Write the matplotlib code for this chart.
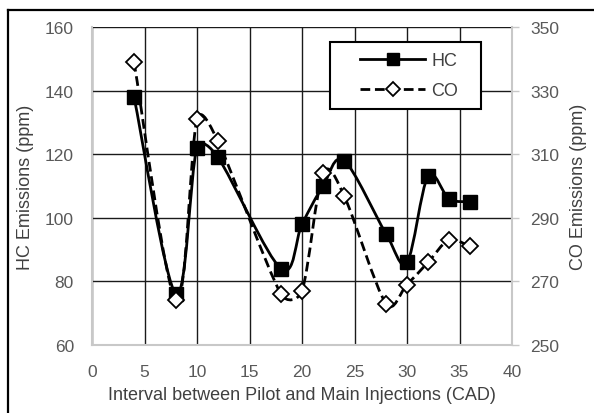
import numpy as np
import matplotlib
matplotlib.use("Agg")
import matplotlib.pyplot as plt
from matplotlib.path import Path
from matplotlib.patches import PathPatch, Rectangle
from matplotlib.lines import Line2D

plt.rcParams["font.family"] = ["Liberation Sans", "DejaVu Sans"]

# data
interval = [4, 8, 10, 12, 18, 20, 22, 24, 28, 30, 32, 34, 36]
hc = [138, 76, 122, 119, 84, 98, 110, 118, 95, 86, 113, 106, 105]
co = [339, 264, 321, 314, 266, 267, 304, 297, 263, 269, 276, 283, 281]

TICK_GREY = "#595959"
LABEL_GREY = "#404040"
DASH = (0, (3.5, 1.7))

# pixel size of one data unit, used to shape the smoothing like excel does
SX = 420 / 40
SY = 318 / 100


# Excel-like smoothed line as a bezier path in data coordinates
def smooth_path(xs, ys):
    pts = np.column_stack([np.asarray(xs) * SX, np.asarray(ys) * SY]).astype(float)
    n = len(pts)
    verts = [pts[0]]
    codes = [Path.MOVETO]
    for i in range(n - 1):
        p0 = pts[max(i - 1, 0)]
        p1 = pts[i]
        p2 = pts[i + 1]
        p3 = pts[min(i + 2, n - 1)]
        seg = np.hypot(*(p2 - p1))
        h1 = (p2 - p0) / 6.0
        h2 = (p3 - p1) / 6.0
        # keep handles shorter than half the segment
        for h in (h1, h2):
            ln = np.hypot(*h)
            if ln > seg / 2 and ln > 0:
                h *= (seg / 2) / ln
        verts += [p1 + h1, p2 - h2, p2]
        codes += [Path.CURVE4] * 3
    verts = np.array(verts) / [SX, SY]
    return Path(verts, codes)


fig = plt.figure(figsize=(5.94, 4.14), dpi=100)
ax = fig.add_axes([92 / 594, 1 - 346 / 414, 420 / 594, 318 / 414])
ax2 = ax.twinx()

# HC on the left axis
ax.add_patch(PathPatch(smooth_path(interval, hc), facecolor="none",
                       edgecolor="black", linewidth=2.0, zorder=3))
ax.plot(interval, hc, linestyle="none", marker="s", markersize=9.5,
        color="black", zorder=4)

# CO on the right axis
ax2.add_patch(PathPatch(smooth_path(interval, co), facecolor="none",
                        edgecolor="black", linewidth=2.0, linestyle=DASH,
                        zorder=3))
ax2.plot(interval, co, linestyle="none", marker="D", markersize=8,
         markerfacecolor="white", markeredgecolor="black", markeredgewidth=1.3,
         zorder=4)

ax.set_xlim(0, 40)
ax.set_ylim(60, 160)
ax2.set_ylim(250, 350)
ax.set_xticks(range(0, 41, 5))
ax.set_yticks(range(60, 161, 20))
ax2.set_yticks(range(250, 351, 20))

ax.grid(True, color="#1a1a1a", linewidth=1.0)
ax.set_axisbelow(True)

for a in (ax, ax2):
    for s in a.spines.values():
        s.set_visible(False)
ax.spines["left"].set_visible(True)
ax.spines["bottom"].set_visible(True)
ax2.spines["right"].set_visible(True)
for s in (ax.spines["left"], ax.spines["bottom"], ax2.spines["right"]):
    s.set_color("#c8c8c8")
    s.set_linewidth(1.5)

ax.tick_params(axis="x", length=0, pad=14, labelsize=12.5, labelcolor=TICK_GREY)
ax.tick_params(axis="y", length=0, pad=13, labelsize=12.5, labelcolor=TICK_GREY)
ax2.tick_params(axis="y", length=5, width=1, color="#c8c8c8", pad=8,
                labelsize=12.5, labelcolor=TICK_GREY)

ax.set_xlabel("Interval between Pilot and Main Injections (CAD)",
              fontsize=13, color=LABEL_GREY, labelpad=5)
ax.set_ylabel("HC Emissions (ppm)", fontsize=13, color=LABEL_GREY, labelpad=8)
ax2.set_ylabel("CO Emissions (ppm)", fontsize=13, color=LABEL_GREY, labelpad=8)

# legend box drawn by hand, wider than its content like the original
ax2.add_patch(Rectangle(((330 - 92) / 420, (346 - 110) / 318), 151 / 420, 67 / 318,
                        transform=ax2.transAxes, facecolor="white",
                        edgecolor="black", linewidth=1.5, zorder=5))
handles = [
    Line2D([], [], color="black", linewidth=2.0, marker="s", markersize=8.5),
    Line2D([], [], color="black", linewidth=2.0, linestyle=DASH,
           marker="D", markersize=7, markerfacecolor="white",
           markeredgecolor="black", markeredgewidth=1.3),
]
leg = ax2.legend(handles, ["HC", "CO"], loc="center left",
                 bbox_to_anchor=((360 - 92) / 420, (346 - 76.5) / 318),
                 fontsize=13, numpoints=1, handlelength=3.6, handletextpad=0.35,
                 labelspacing=0.7, borderpad=0, borderaxespad=0, frameon=False)
leg.set_zorder(6)
for t in leg.get_texts():
    t.set_color(LABEL_GREY)

# partial outer frame of the figure
fig.add_artist(Line2D([7.5 / 594, 7.5 / 594], [0, 1 - 11 / 414],
                      transform=fig.transFigure, color="black", linewidth=1.6))
fig.add_artist(Line2D([7.5 / 594, 1], [1 - 11 / 414, 1 - 11 / 414],
                      transform=fig.transFigure, color="black", linewidth=1.6))

fig.savefig("out.png", dpi=100)
